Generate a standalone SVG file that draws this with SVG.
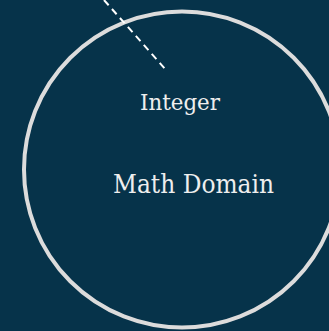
<svg xmlns="http://www.w3.org/2000/svg" width="329" height="331" viewBox="0 0 329 331">
<style>
.bg{fill:#06334a}
.domain{fill:none;stroke:#dcdcdc;stroke-width:4}
.edge{stroke:#ffffff;stroke-width:2;stroke-dasharray:7,5;fill:none}
.lbl{font-family:"DejaVu Serif","Liberation Serif",serif;fill:#eeeeee;text-anchor:middle}
</style>
<rect class="bg" x="0" y="0" width="329" height="331"/>
<g id="math-domain">
<circle class="domain" cx="182" cy="169.5" r="158"/>
<text class="lbl" x="193.5" y="193" font-size="26" textLength="161" lengthAdjust="spacingAndGlyphs">Math Domain</text>
</g>
<g id="connectors">
<line class="edge" x1="104" y1="0" x2="166" y2="70"/>
</g>
<g id="integer">
<text class="lbl" x="180" y="109.5" font-size="23" textLength="80" lengthAdjust="spacingAndGlyphs">Integer</text>
</g>
</svg>
